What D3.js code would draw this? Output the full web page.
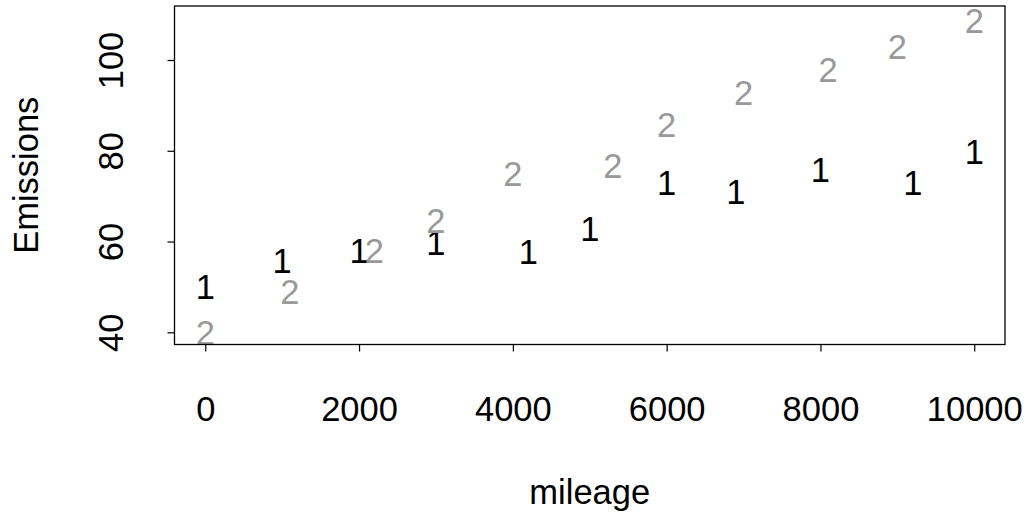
<!DOCTYPE html>
<html>
<head>
<meta charset="utf-8">
<script src="https://cdn.jsdelivr.net/npm/d3@7"></script>
<style>
  html, body { margin: 0; padding: 0; background: #fff; }
  svg { display: block; }
  text { font-family: "Liberation Sans", Arial, Helvetica, sans-serif; }
</style>
</head>
<body>
<svg id="chart" width="1027" height="516"></svg>
<script>
// ---- data ----
const mileage1   = [0, 1000, 2000, 3000, 4200, 5000, 6000, 6900, 8000, 9200, 10000];
const emissions1 = [50, 55.7, 58, 59.7, 57.8, 62.8, 72.9, 70.9, 75.9, 72.9, 79.7];
const mileage2   = [0, 1100, 2200, 3000, 4000, 5300, 6000, 7000, 8100, 9000, 10000];
const emissions2 = [40, 48.9, 58, 64.7, 74.9, 76.8, 85.8, 92.8, 97.9, 102.9, 108.7];
const xTicks = [0, 2000, 4000, 6000, 8000, 10000];
const yTicks = [40, 60, 80, 100];
const xLabel = "mileage";
const yLabel = "Emissions";

// ---- layout ----
const box = { left: 174.5, right: 1005, top: 6, bottom: 344.5 };
const fs = 34.5;
const svg = d3.select("#chart");

const x = d3.scaleLinear().domain([-400, 10400]).range([box.left, box.right]);
const y = d3.scaleLinear().domain([37.31, 111.9]).range([box.bottom, box.top]);

// points (text glyphs)
function drawSeries(xs, ys, label, color) {
  svg.append("g").selectAll("text")
    .data(xs.map((d, i) => [d, ys[i]]))
    .join("text")
    .attr("x", d => x(d[0]))
    .attr("y", d => y(d[1]))
    .attr("dy", "0.358em")
    .attr("text-anchor", "middle")
    .attr("font-size", fs)
    .attr("fill", color)
    .text(label);
}
drawSeries(mileage1, emissions1, "1", "#000000");
drawSeries(mileage2, emissions2, "2", "#999999");

// box
svg.append("rect")
  .attr("x", box.left).attr("y", box.top)
  .attr("width", box.right - box.left).attr("height", box.bottom - box.top)
  .attr("fill", "none").attr("stroke", "#000").attr("stroke-width", 1.3);

// x axis
const xAxis = d3.axisBottom(x).tickValues(xTicks).tickSize(7).tickFormat(d3.format("d"));
const gx = svg.append("g").attr("transform", `translate(0,${box.bottom})`).call(xAxis);
gx.select(".domain").remove();
gx.selectAll(".tick line").attr("stroke", "#000").attr("stroke-width", 1.2);
gx.selectAll(".tick text")
  .attr("y", 421 - box.bottom).attr("dy", null)
  .attr("font-size", fs).attr("fill", "#000")
  .attr("font-family", "Liberation Sans, Arial, sans-serif");

// y axis
const yAxis = d3.axisLeft(y).tickValues(yTicks).tickSize(7).tickFormat(d3.format("d"));
const gy = svg.append("g").attr("transform", `translate(${box.left},0)`).call(yAxis);
gy.select(".domain").remove();
gy.selectAll(".tick line").attr("stroke", "#000").attr("stroke-width", 1.2);
gy.selectAll(".tick text")
  .attr("x", null).attr("dy", null)
  .attr("transform", `translate(${123.3 - box.left},0) rotate(-90)`)
  .attr("text-anchor", "middle")
  .attr("font-size", fs).attr("fill", "#000")
  .attr("font-family", "Liberation Sans, Arial, sans-serif");

// axis titles
svg.append("text")
  .attr("x", (box.left + box.right) / 2).attr("y", 504)
  .attr("text-anchor", "middle").attr("font-size", fs).attr("fill", "#000")
  .text(xLabel);
svg.append("text")
  .attr("transform", `translate(38.3,${(box.top + box.bottom) / 2}) rotate(-90)`)
  .attr("text-anchor", "middle").attr("font-size", fs).attr("fill", "#000")
  .text(yLabel);
</script>
</body>
</html>
